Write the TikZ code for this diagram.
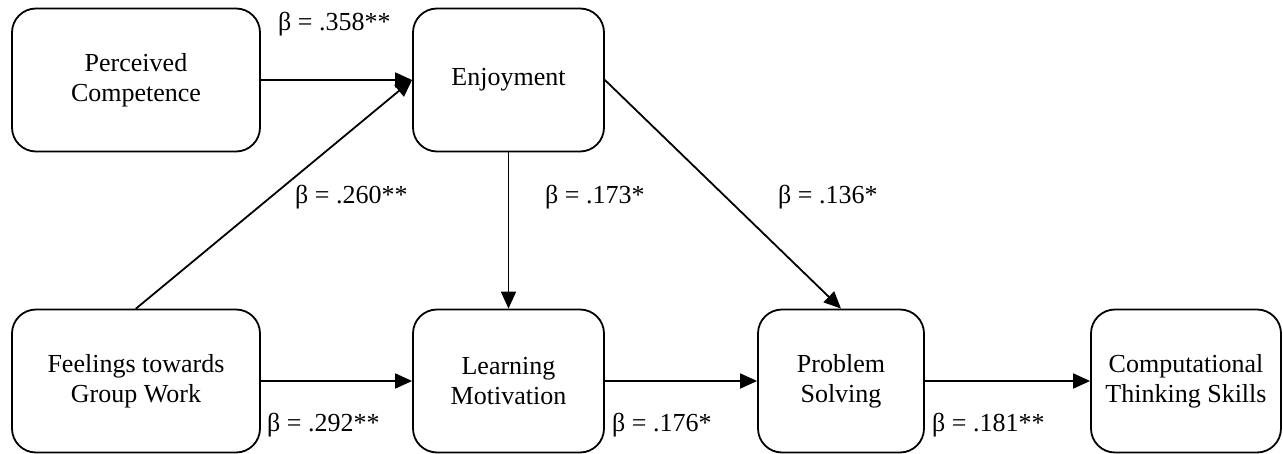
\documentclass[tikz,border=0pt]{standalone}
\usepackage{fontspec}
\setmainfont{Liberation Serif}
\usetikzlibrary{arrows.meta}

\begin{document}
\begin{tikzpicture}[line cap=round,line join=round,x=1pt,y=-1pt,
        construct/.style={draw,line width=1.8pt,rounded corners=24pt,align=center,inner sep=0pt,
            minimum height=143pt,font=\fontsize{26}{30}\selectfont},
        effect/.style={-{Triangle[length=17pt,width=15pt]},line width=1.8pt},
        coef/.style={anchor=west,inner sep=0pt,font=\fontsize{26}{30}\selectfont}]
    \useasboundingbox (0,0) rectangle (1283,454);
    % constructs
    \node[construct,minimum width=248pt] (pc) at (136,80) {Perceived\\Competence};
    \node[construct,minimum width=191pt] (enj) at (508.5,80) {Enjoyment};
    \node[construct,minimum width=248pt] (fgw) at (136,381) {Feelings towards\\Group Work};
    \node[construct,minimum width=191pt] (lm) at (508.5,381) {Learning\\Motivation};
    \node[construct,minimum width=166pt] (ps) at (841,381) {Problem\\Solving};
    \node[construct,minimum width=190pt] (cts) at (1186,381) {Computational\\Thinking Skills};
    % paths
    \draw[effect] (pc.east) -- (enj.west);
    \draw[effect] (fgw.north) -- (enj.west);
    \draw[effect] (enj.south) -- (lm.north);
    \draw[effect] (enj.east) -- (ps.north);
    \draw[effect] (fgw.east) -- (lm.west);
    \draw[effect] (lm.east) -- (ps.west);
    \draw[effect] (ps.east) -- (cts.west);
    % coefficients
    \node[coef] (b358) at (278,24) {β = .358**};
    \node[coef] (b260) at (295,197) {β = .260**};
    \node[coef] (b173) at (545,197) {β = .173*};
    \node[coef] (b136) at (778,197) {β = .136*};
    \node[coef] (b292) at (267,425) {β = .292**};
    \node[coef] (b176) at (612,425) {β = .176*};
    \node[coef] (b181) at (932,425) {β = .181**};
\end{tikzpicture}
\end{document}
